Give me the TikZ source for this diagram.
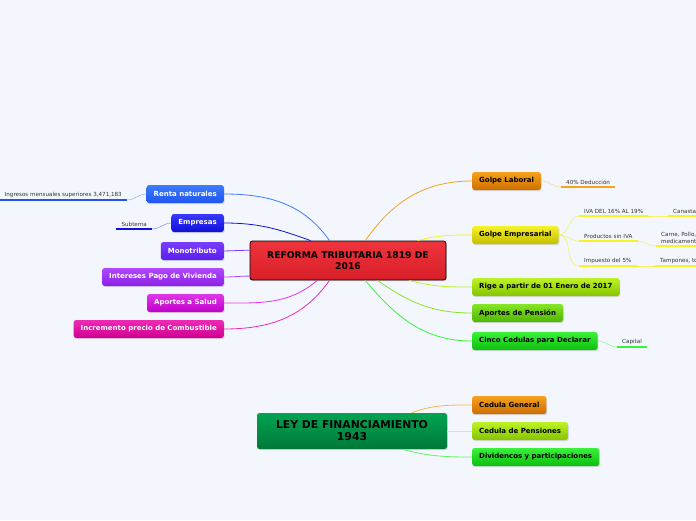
\documentclass[tikz,border=0pt]{standalone}
\usepackage{fontspec}
\setmainfont{DejaVu Sans}
\usetikzlibrary{shadows}
\definecolor{bgmap}{HTML}{F3F6FD}
\definecolor{rentaA}{HTML}{3D7BFF}\definecolor{rentaB}{HTML}{1F55EE}
\definecolor{empA}{HTML}{3838FF}\definecolor{empB}{HTML}{1010D8}
\definecolor{monoA}{HTML}{7A3DFF}\definecolor{monoB}{HTML}{5A1FEF}
\definecolor{vivA}{HTML}{B048FF}\definecolor{vivB}{HTML}{8E1FE6}
\definecolor{saludA}{HTML}{E236EA}\definecolor{saludB}{HTML}{C000C8}
\definecolor{combA}{HTML}{EE2AB4}\definecolor{combB}{HTML}{CF0090}
\definecolor{orgA}{HTML}{F7A21C}\definecolor{orgB}{HTML}{CC6E00}
\definecolor{yelA}{HTML}{F6F22A}\definecolor{yelB}{HTML}{C6BE00}
\definecolor{limeA}{HTML}{BDF226}\definecolor{limeB}{HTML}{86C400}
\definecolor{grnA}{HTML}{86E526}\definecolor{grnB}{HTML}{4FB600}
\definecolor{briA}{HTML}{3AF23A}\definecolor{briB}{HTML}{0EBE0E}
\definecolor{redA}{HTML}{EE343C}\definecolor{redB}{HTML}{D81E28}
\definecolor{leyA}{HTML}{00A452}\definecolor{leyB}{HTML}{007838}
\begin{document}
\begin{tikzpicture}[x=1pt,y=-1pt,
    topic/.style={rounded corners=2.5pt, minimum height=18pt, inner xsep=7pt, inner ysep=2pt,
      font=\fontsize{7}{8}\selectfont\bfseries,
      drop shadow={opacity=0.25,shadow xshift=0.8pt,shadow yshift=-1.2pt}},
    lefttopic/.style={topic, text=white, anchor=east},
    righttopic/.style={topic, text=black, anchor=west},
    sub/.style={font=\fontsize{5.6}{6.6}\selectfont, text=black!80, inner xsep=5pt, inner ysep=2.5pt},
    subline/.style={line width=2.6pt},
    link/.style={line width=0.8pt}]
\fill[bgmap] (0,0) rectangle (696,520);
\useasboundingbox (0,0) rectangle (696,520);

% main topics
\node[topic, draw=black, line width=0.8pt, top color=redA, bottom color=redB, text=black,
  minimum width=196pt, minimum height=39pt, align=center, font=\fontsize{9.2}{11.5}\selectfont\bfseries]
  (reforma) at (348,260.5) {REFORMA TRIBUTARIA 1819 DE\\2016};
\node[topic, top color=leyA, bottom color=leyB, text=black, minimum width=190pt, minimum height=36pt,
  align=center, font=\fontsize{10.8}{12}\selectfont\bfseries]
  (ley) at (352,431) {LEY DE FINANCIAMIENTO\\1943};

% left side
\node[lefttopic, top color=rentaA, bottom color=rentaB] (renta) at (224,194) {Renta naturales};
\node[lefttopic, top color=empA, bottom color=empB] (empresas) at (224,223) {Empresas};
\node[lefttopic, top color=monoA, bottom color=monoB] (mono) at (224,251) {Monotributo};
\node[lefttopic, top color=vivA, bottom color=vivB] (vivienda) at (224,277) {Intereses Pago de Vivienda};
\node[lefttopic, top color=saludA, bottom color=saludB] (salud) at (224,303) {Aportes a Salud};
\node[lefttopic, top color=combA, bottom color=combB] (combustible) at (224,329) {Incremento precio de Combustible};

% right side
\node[righttopic, top color=orgA, bottom color=orgB] (laboral) at (472,181) {Golpe Laboral};
\node[righttopic, top color=yelA, bottom color=yelB] (empresarial) at (472,235) {Golpe Empresarial};
\node[righttopic, top color=limeA, bottom color=limeB] (rige) at (472,287) {Rige a partir de 01 Enero de 2017};
\node[righttopic, top color=grnA, bottom color=grnB] (pension) at (472,313) {Aportes de Pensión};
\node[righttopic, top color=briA, bottom color=briB] (cinco) at (472,341) {Cinco Cedulas para Declarar};

\node[righttopic, top color=orgA, bottom color=orgB] (general) at (472,405) {Cedula General};
\node[righttopic, top color=limeA, bottom color=limeB] (pensiones) at (472,431) {Cedula de Pensiones};
\node[righttopic, top color=briA, bottom color=briB] (dividendos) at (472,457) {Dividencos y participaciones};

% subtopics
\node[sub, anchor=south east] (ingresos) at (127,200) {Ingresos mensuales superiores 3,471,183};
\node[sub, anchor=south east] (subtema) at (152,229) {Subtema};
\node[sub, anchor=south west] (deduccion) at (561,187) {40\% Deducción};
\node[sub, anchor=south west] (iva) at (579,216) {IVA DEL 16\% AL 19\%};
\node[sub, anchor=south west] (sin) at (579,241) {Productos sin IVA};
\node[sub, anchor=south west] (impuesto) at (579,266) {Impuesto del 5\%};
\node[sub, anchor=south west] (canasta) at (668,216) {Canasta};
\node[sub, anchor=south west, align=left] (carne) at (656,246) {Carne, Pollo,\\medicamento};
\node[sub, anchor=south west] (tampones) at (655,266) {Tampones, to};
\node[sub, anchor=south west] (capital) at (617,347) {Capital};

\draw[subline, color=rentaB] (ingresos.south west) -- (ingresos.south east);
\draw[subline, color=empB] (subtema.south west) -- (subtema.south east);
\draw[subline, color=orgA] (deduccion.south west) -- (deduccion.south east);
\draw[subline, color=yelA!90!yellow] (iva.south west) -- (iva.south east);
\draw[subline, color=yelA!90!yellow] (sin.south west) -- (sin.south east);
\draw[subline, color=yelA!90!yellow] (impuesto.south west) -- (impuesto.south east);
\draw[subline, color=yelA!90!yellow] (canasta.south west) -- (canasta.south east);
\draw[subline, color=yelA!90!yellow] (carne.south west) -- (carne.south east);
\draw[subline, color=yelA!90!yellow] (tampones.south west) -- (tampones.south east);
\draw[subline, color=briA] (capital.south west) -- (capital.south east);

% links
\draw[link, color=rentaA] (reforma.133) to[out=125,in=0] (renta.east);
\draw[link, color=empB] (reforma.152) to[out=160,in=0] (empresas.east);
\draw[link, color=monoA] (reforma.174) -- (mono.east);
\draw[link, color=vivA] (reforma.189) to[out=180,in=0] (vivienda.east);
\draw[link, color=saludA] (reforma.213) to[out=220,in=0] (salud.east);
\draw[link, color=combA] (reforma.227) to[out=235,in=0] (combustible.east);
\draw[link, color=orgA] (reforma.49) to[out=55,in=180] (laboral.west);
\draw[link, color=yelA] (reforma.16) to[out=15,in=180] (empresarial.west);
\draw[link, color=limeA] (reforma.342) to[out=-15,in=180] (rige.west);
\draw[link, color=grnA] (reforma.326) to[out=-35,in=180] (pension.west);
\draw[link, color=briA] (reforma.311) to[out=-50,in=180] (cinco.west);
\draw[link, color=orgA!80] (ley.17) to[out=20,in=180] (general.west);
\draw[link, color=limeA!70] (ley.east) -- (pensiones.west);
\draw[link, color=briA!80] (ley.340) to[out=-15,in=180] (dividendos.west);

\draw[link, thin, color=rentaA!70] (renta.west) to[out=180,in=0] (ingresos.south east);
\draw[link, thin, color=empA!70] (empresas.west) to[out=180,in=0] (subtema.south east);
\draw[link, thin, color=orgA!60] (laboral.east) to[out=0,in=180] (deduccion.south west);
\draw[link, thin, color=yelA] (empresarial.east) to[out=0,in=180] (iva.south west);
\draw[link, thin, color=yelA] (empresarial.east) to[out=0,in=180] (sin.south west);
\draw[link, thin, color=yelA] (empresarial.east) to[out=0,in=180] (impuesto.south west);
\draw[link, thin, color=yelA] (iva.south east) to[out=0,in=180] (canasta.south west);
\draw[link, thin, color=yelA] (sin.south east) to[out=0,in=180] (carne.south west);
\draw[link, thin, color=yelA] (impuesto.south east) to[out=0,in=180] (tampones.south west);
\draw[link, thin, color=briA!70] (cinco.east) to[out=0,in=180] (capital.south west);
\end{tikzpicture}
\end{document}
